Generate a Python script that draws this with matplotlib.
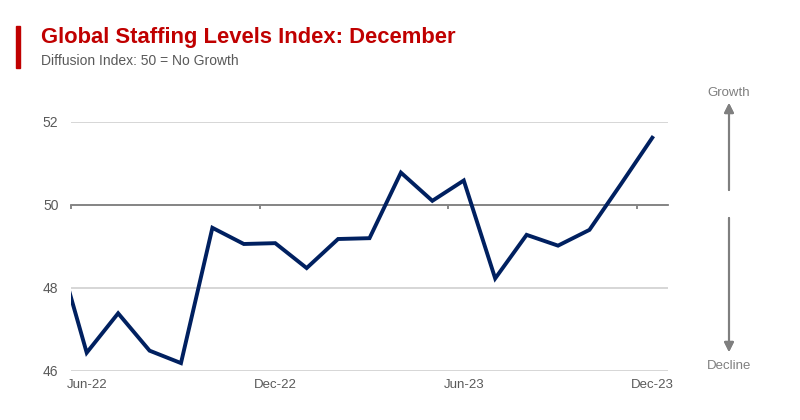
import matplotlib.pyplot as plt
from matplotlib.patches import Rectangle

plt.rcParams['font.family'] = ['Liberation Sans', 'DejaVu Sans']

# monthly index, May-22 is only partly visible (clipped at left edge)
months = ['May-22', 'Jun-22', 'Jul-22', 'Aug-22', 'Sep-22', 'Oct-22', 'Nov-22',
          'Dec-22', 'Jan-23', 'Feb-23', 'Mar-23', 'Apr-23', 'May-23', 'Jun-23',
          'Jul-23', 'Aug-23', 'Sep-23', 'Oct-23', 'Nov-23', 'Dec-23']
index_vals = [49.1, 46.44, 47.39, 46.49, 46.19, 49.45, 49.06, 49.08, 48.48, 49.18,
              49.2, 50.78, 50.1, 50.59, 48.23, 49.28, 49.02, 49.4, 50.5, 51.62]
tick_labels = ['Jun-22', 'Dec-22', 'Jun-23', 'Dec-23']

xs = [i - 1 for i in range(len(months))]  # Jun-22 at 0

fig = plt.figure(figsize=(8, 4.2), dpi=100)
ax = fig.add_axes([0.08875, 0.1167, 0.74625, 0.5929])

ax.plot(xs, index_vals, color='#002060', lw=2.8, solid_joinstyle='miter', zorder=3)
ax.set_xlim(-0.5, 18.5)
ax.set_ylim(46, 52)

ax.set_yticks([46, 48, 50, 52])
ax.yaxis.grid(True, color='#d0d0d0', lw=1.2)
ax.tick_params(axis='y', length=0, labelsize=10, labelcolor='#595959', pad=9)

for s in ['top', 'right', 'left']:
    ax.spines[s].set_visible(False)
ax.spines['bottom'].set_position(('data', 50))
ax.spines['bottom'].set_color('#7f7f7f')
ax.spines['bottom'].set_linewidth(1.3)
ax.spines['bottom'].set_zorder(2)

# category boundary ticks on the 50 line
ax.set_xticks([-0.5, 5.5, 11.5, 17.5])
ax.tick_params(axis='x', length=3, width=1.3, color='#7f7f7f', labelbottom=False)

sec = ax.secondary_xaxis(0.0)
sec.set_xticks([tick_labels.index(t) * 6 for t in tick_labels], tick_labels)
sec.tick_params(length=0, labelsize=9.5, labelcolor='#595959', pad=6)
sec.spines['bottom'].set_visible(False)

# title block
fig.patches.append(Rectangle((16 / 800, 1 - 68 / 420), 4 / 800, 42 / 420,
                             transform=fig.transFigure, color='#C00000'))
fig.text(41 / 800, 1 - 37 / 420, 'Global Staffing Levels Index: December',
         fontsize=15.8, fontweight='bold', color='#C00000', va='center')
fig.text(41 / 800, 1 - 61 / 420, 'Diffusion Index: 50 = No Growth',
         fontsize=10, color='#595959', va='center')

# growth / decline arrows
ax_x = 729 / 800
fig.text(ax_x, 1 - 93 / 420, 'Growth', fontsize=9.5, color='#7f7f7f', ha='center', va='center')
fig.text(ax_x, 1 - 366 / 420, 'Decline', fontsize=9.5, color='#7f7f7f', ha='center', va='center')
arrow = dict(arrowstyle='-|>', color='#7f7f7f', lw=1.5, mutation_scale=14, shrinkA=0, shrinkB=0)
fig.add_artist(plt.annotate('', xy=(ax_x, 1 - 103 / 420), xytext=(ax_x, 1 - 190 / 420),
                            xycoords='figure fraction', arrowprops=arrow))
fig.add_artist(plt.annotate('', xy=(ax_x, 1 - 352 / 420), xytext=(ax_x, 1 - 218 / 420),
                            xycoords='figure fraction', arrowprops=arrow))

fig.savefig('out.png', dpi=100)
